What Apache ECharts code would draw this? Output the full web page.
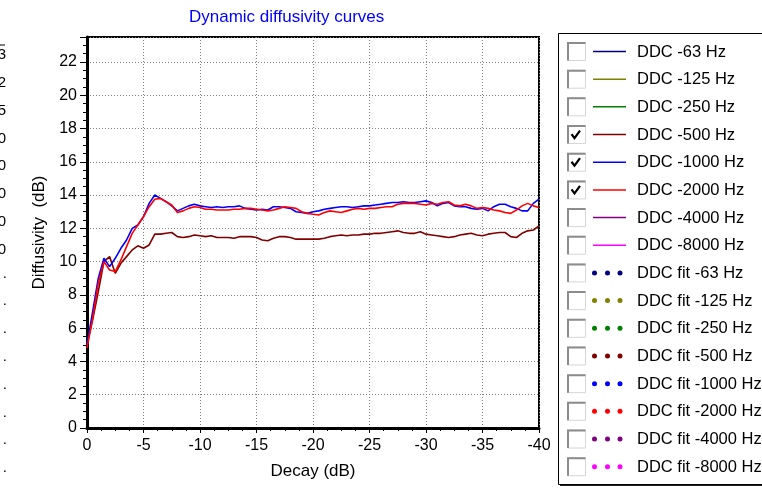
<!DOCTYPE html>
<html><head><meta charset="utf-8">
<script src="https://cdn.jsdelivr.net/npm/echarts@6/dist/echarts.min.js"></script>
<style>html,body{margin:0;padding:0;background:#fff;overflow:hidden}#c{width:762px;height:489px;}</style>
</head><body><div id="c"></div>
<script>
// Decay axis samples (dB)
const decay = [0,-0.5,-1,-1.5,-2,-2.5,-3,-3.5,-4,-4.5,-5,-5.5,-6,-6.5,-7,-7.5,-8,-8.5,-9,-9.5,
  -10,-10.5,-11,-11.5,-12,-12.5,-13,-13.5,-14,-14.5,-15,-15.5,-16,-16.5,-17,-17.5,-18,-18.5,-19,-19.5,
  -20,-20.5,-21,-21.5,-22,-22.5,-23,-23.5,-24,-24.5,-25,-25.5,-26,-26.5,-27,-27.5,-28,-28.5,-29,-29.5,
  -30,-30.5,-31,-31.5,-32,-32.5,-33,-33.5,-34,-34.5,-35,-35.5,-36,-36.5,-37,-37.5,-38,-38.5,-39,-39.5,-40];

const ddc500 = [5.0,6.5,8.2,10.0,10.3,9.3,9.9,10.3,10.7,10.95,10.8,11.0,11.65,11.65,11.7,11.75,11.5,11.45,11.5,11.6,
  11.55,11.5,11.55,11.45,11.45,11.45,11.4,11.5,11.5,11.5,11.45,11.3,11.25,11.4,11.5,11.5,11.45,11.35,11.35,11.35,
  11.35,11.35,11.4,11.5,11.55,11.6,11.55,11.6,11.6,11.65,11.65,11.7,11.7,11.75,11.8,11.85,11.75,11.7,11.7,11.8,
  11.65,11.6,11.55,11.5,11.45,11.5,11.6,11.65,11.7,11.6,11.55,11.65,11.7,11.75,11.75,11.5,11.45,11.7,11.85,11.9,12.15];

const ddc1000 = [5.0,7.0,9.0,10.2,9.7,10.2,10.8,11.3,12.0,12.2,12.7,13.5,14.0,13.8,13.6,13.35,13.05,13.2,13.35,13.45,
  13.35,13.3,13.25,13.3,13.25,13.3,13.3,13.35,13.2,13.15,13.1,13.15,13.1,13.3,13.3,13.25,13.2,13.0,12.95,12.9,
  13.0,13.05,13.15,13.2,13.25,13.3,13.3,13.25,13.3,13.35,13.35,13.4,13.45,13.5,13.55,13.55,13.6,13.55,13.55,13.6,
  13.65,13.55,13.35,13.5,13.55,13.35,13.3,13.3,13.2,13.15,13.2,13.05,13.3,13.45,13.45,13.3,13.2,13.05,13.05,13.5,13.75];

const ddc2000 = [4.8,6.6,8.7,10.0,9.5,9.4,10.1,10.9,11.7,12.2,12.7,13.3,13.75,13.8,13.6,13.4,12.95,13.05,13.2,13.3,
  13.25,13.15,13.15,13.1,13.1,13.1,13.15,13.15,13.2,13.2,13.15,13.1,13.05,13.1,13.2,13.3,13.25,13.2,13.0,12.9,
  12.85,12.8,12.95,13.05,13.0,12.95,13.05,13.15,13.2,13.15,13.2,13.2,13.25,13.3,13.3,13.45,13.5,13.5,13.5,13.45,
  13.4,13.5,13.45,13.55,13.6,13.4,13.35,13.45,13.35,13.2,13.25,13.2,13.1,13.05,12.95,12.9,13.1,13.35,13.5,13.35,13.25];

const xTickLabels = ['0','-5','-10','-15','-20','-25','-30','-35','-40'];
const yTickLabels = ['0','2','4','6','8','10','12','14','16','18','20','22'];

const legendNames = ['DDC -63 Hz','DDC -125 Hz','DDC -250 Hz','DDC -500 Hz','DDC -1000 Hz','DDC -2000 Hz','DDC -4000 Hz','DDC -8000 Hz',
  'DDC fit -63 Hz','DDC fit -125 Hz','DDC fit -250 Hz','DDC fit -500 Hz','DDC fit -1000 Hz','DDC fit -2000 Hz','DDC fit -4000 Hz','DDC fit -8000 Hz'];
const legendColors = ['#000080','#808000','#008000','#800000','#0000ff','#ff0000','#800080','#ff00ff',
  '#000080','#808000','#008000','#800000','#0000ff','#ff0000','#800080','#ff00ff'];
const legendChecked = [0,0,0,1,1,1,0,0, 0,0,0,0,0,0,0,0];
const legendKind = ['line','line','line','line','line','line','line','line','dots','dots','dots','dots','dots','dots','dots','dots'];
const leftClipChars = ['3','2','5','0','0','0','0','0','.','.','.','.','.','.','.','.'];

const FONT = 'Liberation Sans, Arial, sans-serif';
const chart = echarts.init(document.getElementById('c'), null, {renderer:'canvas'});

function pairs(vals){ return decay.map((d,i)=>[d, vals[i]]); }

const graphics = [];
// legend box
const LX = 558, LY = 33, LW = 240, LH = 451;
graphics.push({type:'rect', shape:{x:LX+2, y:LY+2, width:LW, height:LH}, style:{fill:'#222'}, silent:true});
graphics.push({type:'rect', shape:{x:LX+0.5, y:LY+0.5, width:LW, height:LH}, style:{fill:'#fff', stroke:'#000', lineWidth:1}, silent:true});
const row0 = 51.5, rowH = 27.68;
legendNames.forEach((nm,i)=>{
  const cy = row0 + i*rowH;
  graphics.push({type:'rect', shape:{x:567.5, y:cy-9, width:18, height:18}, style:{fill:'#fff', stroke:'#d6d6d6', lineWidth:1}, silent:true});
  graphics.push({type:'polyline', shape:{points:[[568,cy+9],[568,cy-8.5],[585.5,cy-8.5]]}, style:{stroke:'#8c8c8c', lineWidth:2, fill:null}, silent:true});
  if (legendChecked[i]) {
    graphics.push({type:'polyline', shape:{points:[[571.5,cy-0.5],[574.5,cy+3.5],[580,cy-4]]}, style:{stroke:'#000', lineWidth:2.2, fill:null}, silent:true});
  }
  if (legendKind[i]==='line') {
    graphics.push({type:'line', shape:{x1:593, y1:cy, x2:626, y2:cy}, style:{stroke:legendColors[i], lineWidth:1.5}, silent:true});
  } else {
    [594.5,607.5,620].forEach(cx=>graphics.push({type:'circle', shape:{cx:cx, cy:cy, r:2.5}, style:{fill:legendColors[i]}, silent:true}));
  }
  graphics.push({type:'text', x:637, y:cy+0.5, style:{text:nm, font:'16.5px '+FONT, fill:'#000', textVerticalAlign:'middle', verticalAlign:'middle'}, silent:true});
});
// clipped text at the far left edge
graphics.push({type:'line', shape:{x1:0, y1:45, x2:5, y2:45}, style:{stroke:'#000', lineWidth:1}, silent:true});
leftClipChars.forEach((ch,i)=>{
  const cy = 55 + i*27.8;
  graphics.push({type:'text', x:ch==='.'?7:6, y:ch==='.'?cy-4:cy, style:{text:(ch==='.'?'.':'0'+ch), font:'15px '+FONT, fill:'#000', align:'right', textAlign:'right', verticalAlign:'middle', textVerticalAlign:'middle'}, silent:true});
});

const option = {
  backgroundColor:'#fff',
  animation:false,
  title:{text:'Dynamic diffusivity curves', left:184, top:4, textStyle:{color:'#0000ff', fontSize:17, fontWeight:'normal', fontFamily:FONT}},
  grid:{left:87, top:37, width:452, height:391, show:true, borderColor:'#000', borderWidth:2, backgroundColor:'#fff', containLabel:false},
  xAxis:{type:'value', min:-40, max:0, interval:5, inverse:true,
    name:'Decay (dB)', nameLocation:'middle', nameGap:35, nameTextStyle:{fontSize:17, color:'#000', fontFamily:FONT},
    axisLine:{show:true, onZero:false, lineStyle:{color:'#000', width:3}},
    axisTick:{show:true, inside:false, length:5, lineStyle:{color:'#000', width:1}},
    minorTick:{show:true, splitNumber:4, length:3, lineStyle:{color:'#000', width:1}},
    axisLabel:{fontSize:16, color:'#000', fontFamily:FONT, margin:10,
      formatter:(v)=>{ const s=String(v); return xTickLabels.includes(s)?s:''; }},
    splitLine:{show:true, lineStyle:{color:'#808080', width:1, type:[1,2]}}
  },
  yAxis:{type:'value', min:0, max:23.5, interval:2,
    name:'Diffusivity  (dB)', nameLocation:'middle', nameGap:38, nameRotate:90, nameTextStyle:{fontSize:17, color:'#000', fontFamily:FONT},
    axisLine:{show:true, onZero:false, lineStyle:{color:'#000', width:3}},
    axisTick:{show:true, inside:false, length:7, lineStyle:{color:'#000', width:1}},
    minorTick:{show:true, splitNumber:4, length:4, lineStyle:{color:'#000', width:1}},
    axisLabel:{fontSize:16, color:'#000', fontFamily:FONT, margin:10, showMaxLabel:false,
      formatter:(v)=>{ const s=String(v); return yTickLabels.includes(s)?s:''; }},
    splitLine:{show:true, lineStyle:{color:'#808080', width:1, type:[1,2]}}
  },
  series:[
    {name:'DDC -500 Hz', type:'line', data:pairs(ddc500), showSymbol:false, symbol:'none', lineStyle:{color:'#800000', width:1.6}, itemStyle:{color:'#800000'}, z:3},
    {name:'DDC -1000 Hz', type:'line', data:pairs(ddc1000), showSymbol:false, symbol:'none', lineStyle:{color:'#0000ff', width:1.6}, itemStyle:{color:'#0000ff'}, z:4},
    {name:'DDC -2000 Hz', type:'line', data:pairs(ddc2000), showSymbol:false, symbol:'none', lineStyle:{color:'#ff0000', width:1.6}, itemStyle:{color:'#ff0000'}, z:5}
  ],
  graphic: graphics
};
chart.setOption(option);
</script></body></html>
